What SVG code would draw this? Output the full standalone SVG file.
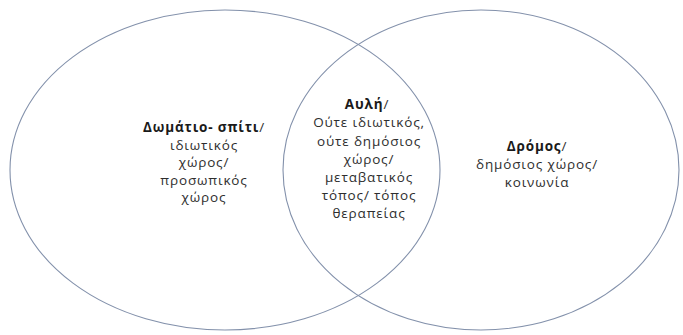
<svg xmlns="http://www.w3.org/2000/svg" width="683" height="335" viewBox="0 0 683 335">
<style>
.c{fill:none;stroke:#8391ab;stroke-width:1.1}
text{font-family:"Open Sans","Noto Sans","DejaVu Sans",sans-serif;font-size:13.5px;letter-spacing:0.85px;fill:#2e2e2e;text-anchor:middle}
.b{font-weight:bold;fill:#1a1a1a}
</style>
<rect width="683" height="335" fill="#fff"/>
<g id="room"><ellipse class="c" cx="225" cy="170" rx="215" ry="160"/>
<text x="204" y="132"><tspan class="b">Δωμάτιο- σπίτι</tspan>/</text>
<text x="204" y="149.5">ιδιωτικός</text>
<text x="204" y="167">χώρος/</text>
<text x="204" y="184.5">προσωπικός</text>
<text x="204" y="202">χώρος</text>
</g>
<g id="street"><ellipse class="c" cx="481" cy="170" rx="198" ry="160"/>
<text x="537" y="151"><tspan class="b">Δρόμος</tspan>/</text>
<text x="537" y="169">δημόσιος χώρος/</text>
<text x="537" y="187">κοινωνία</text>
</g>
<g id="yard">
<text x="367" y="109"><tspan class="b">Αυλή</tspan>/</text>
<text x="369" y="127">Ούτε ιδιωτικός,</text>
<text x="369" y="145.5">ούτε δημόσιος</text>
<text x="369" y="164">χώρος/</text>
<text x="369" y="182">μεταβατικός</text>
<text x="369" y="200">τόπος/ τόπος</text>
<text x="369" y="218">θεραπείας</text>
</g>
<g id="connectors"></g>
</svg>
